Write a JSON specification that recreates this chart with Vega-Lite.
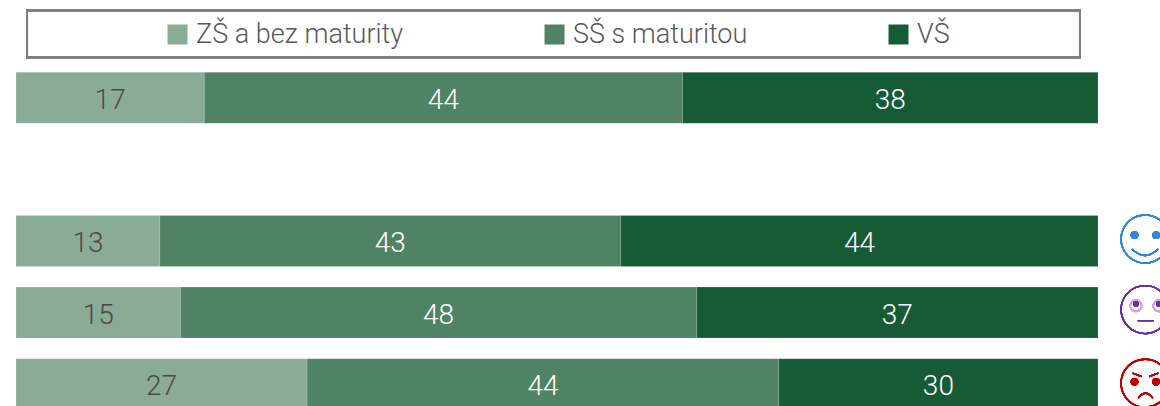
{
"$schema":"https://vega.github.io/schema/vega-lite/v6.json",
"width":1082,"height":358,
"autosize":{"type":"none"},
"padding":{"left":16,"top":62,"right":62,"bottom":0},
"background":"white",
"config":{"view":{"stroke":null},"font":"Roboto"},
"data":{"values":[
{"skupina":"celkem","vzdelani":"ZŠ a bez maturity","poradi":1,"podil":17.4},
{"skupina":"celkem","vzdelani":"SŠ s maturitou","poradi":2,"podil":44.2},
{"skupina":"celkem","vzdelani":"VŠ","poradi":3,"podil":38.4},
{"skupina":"spokojeni","vzdelani":"ZŠ a bez maturity","poradi":1,"podil":13.3},
{"skupina":"spokojeni","vzdelani":"SŠ s maturitou","poradi":2,"podil":42.6},
{"skupina":"spokojeni","vzdelani":"VŠ","poradi":3,"podil":44.1},
{"skupina":"neutralni","vzdelani":"ZŠ a bez maturity","poradi":1,"podil":15.2},
{"skupina":"neutralni","vzdelani":"SŠ s maturitou","poradi":2,"podil":47.7},
{"skupina":"neutralni","vzdelani":"VŠ","poradi":3,"podil":37.1},
{"skupina":"nespokojeni","vzdelani":"ZŠ a bez maturity","poradi":1,"podil":26.9},
{"skupina":"nespokojeni","vzdelani":"SŠ s maturitou","poradi":2,"podil":43.6},
{"skupina":"nespokojeni","vzdelani":"VŠ","poradi":3,"podil":29.5}
]},
"encoding":{
"y":{"field":"skupina","type":"nominal","axis":null,"scale":{"domain":["celkem","mezera","spokojeni","neutralni","nespokojeni"],"paddingInner":0.288,"paddingOuter":0.144}}
},
"layer":[
{"mark":{"type":"bar","stroke":"#ffffff","strokeWidth":0.5,"strokeOpacity":0.3},
"encoding":{
"x":{"field":"podil","type":"quantitative","stack":"normalize","axis":null,"scale":{"domain":[0,1]}},
"order":{"field":"poradi","type":"ordinal"},
"color":{"field":"vzdelani","type":"nominal","scale":{"domain":["ZŠ a bez maturity","SŠ s maturitou","VŠ"],"range":["#8AAC97","#508365","#175B36"]},
"legend":{"title":null,"orient":"none","legendX":148,"legendY":-41,"direction":"horizontal","columns":3,"gridAlign":"none","columnPadding":137,"symbolType":"square","symbolSize":400,"symbolStrokeWidth":0,"symbolOpacity":1,"labelFont":"Roboto","labelFontWeight":300,"labelFontSize":27,"labelColor":"#595959","labelOffset":5,"labelLimit":400,"padding":0}}
}},
{"mark":{"type":"text","font":"Roboto","fontWeight":300,"fontSize":28,"dy":3},
"encoding":{
"x":{"field":"podil","type":"quantitative","stack":"normalize","bandPosition":0.5},
"detail":{"field":"vzdelani"},
"order":{"field":"poradi","type":"ordinal"},
"text":{"field":"podil","type":"quantitative","format":".0f"},
"color":{"condition":{"test":"datum.poradi===1","value":"#4A4A4A"},"value":"#ffffff"}
}},
{"mark":{"type":"bar","fillOpacity":0,"stroke":"#7f7f7f","strokeWidth":2,"height":47,"yOffset":-64},
"encoding":{"x":{"datum":0.01017,"type":"quantitative"},"x2":{"datum":0.98336},"y":{"datum":"celkem"}}},
{"mark":{"type":"point","filled":false,"stroke":"#2E8AD6","strokeWidth":1.4,"size":2304,"yOffset":-2,"shape":"M-1,0A1,1 0 1,1 1,0A1,1 0 1,1 -1,0ZM-0.55,0.42Q0,0.95 0.55,0.42"},
"encoding":{"x":{"datum":1.0435,"type":"quantitative"},"y":{"datum":"spokojeni"}}},
{"mark":{"type":"point","filled":true,"fill":"#2E8AD6","opacity":1,"strokeWidth":0,"size":2304,"yOffset":-2,"shape":"M-0.6,-0.16A0.16,0.16 0 1,1 -0.28,-0.16A0.16,0.16 0 1,1 -0.6,-0.16ZM0.3,-0.16A0.16,0.16 0 1,1 0.62,-0.16A0.16,0.16 0 1,1 0.3,-0.16Z"},
"encoding":{"x":{"datum":1.0435,"type":"quantitative"},"y":{"datum":"spokojeni"}}},
{"mark":{"type":"point","filled":false,"stroke":"#7030A0","strokeWidth":1.4,"size":2304,"yOffset":-3,"shape":"M-1,0A1,1 0 1,1 1,0A1,1 0 1,1 -1,0ZM-0.3,0.46L0.36,0.46"},
"encoding":{"x":{"datum":1.0435,"type":"quantitative"},"y":{"datum":"neutralni"}}},
{"mark":{"type":"point","filled":false,"stroke":"#C9A8E0","strokeWidth":1.4,"size":2304,"yOffset":-3,"shape":"M-0.62,-0.16A0.24,0.24 0 1,1 -0.14,-0.16A0.24,0.24 0 1,1 -0.62,-0.16ZM0.34,-0.16A0.24,0.24 0 1,1 0.82,-0.16A0.24,0.24 0 1,1 0.34,-0.16Z"},
"encoding":{"x":{"datum":1.0435,"type":"quantitative"},"y":{"datum":"neutralni"}}},
{"mark":{"type":"point","filled":true,"fill":"#7030A0","opacity":1,"strokeWidth":0,"size":2304,"yOffset":-3,"shape":"M-0.5,-0.24A0.12,0.12 0 1,1 -0.26,-0.24A0.12,0.12 0 1,1 -0.5,-0.24ZM0.46,-0.24A0.12,0.12 0 1,1 0.7,-0.24A0.12,0.12 0 1,1 0.46,-0.24Z"},
"encoding":{"x":{"datum":1.0435,"type":"quantitative"},"y":{"datum":"neutralni"}}},
{"mark":{"type":"point","filled":false,"stroke":"#C00000","strokeWidth":1.4,"size":2304,"yOffset":-1,"shape":"M-1,0A1,1 0 1,1 1,0A1,1 0 1,1 -1,0ZM-0.52,-0.42L-0.15,-0.28M0.55,-0.42L0.18,-0.28M-0.28,0.62Q0.02,0.22 0.32,0.62"},
"encoding":{"x":{"datum":1.0435,"type":"quantitative"},"y":{"datum":"nespokojeni"}}},
{"mark":{"type":"point","filled":true,"fill":"#C00000","opacity":1,"strokeWidth":0,"size":2304,"yOffset":-1,"shape":"M-0.6,-0.06A0.16,0.16 0 1,1 -0.28,-0.06A0.16,0.16 0 1,1 -0.6,-0.06ZM0.3,-0.06A0.16,0.16 0 1,1 0.62,-0.06A0.16,0.16 0 1,1 0.3,-0.06Z"},
"encoding":{"x":{"datum":1.0435,"type":"quantitative"},"y":{"datum":"nespokojeni"}}}
]
}
